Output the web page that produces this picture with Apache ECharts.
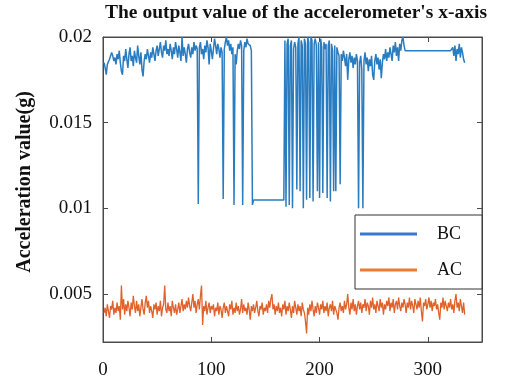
<!DOCTYPE html>
<html>
<head>
<meta charset="utf-8">
<script src="https://cdn.jsdelivr.net/npm/echarts@6/dist/echarts.min.js"></script>
<style>
  html, body { margin: 0; padding: 0; background: #fff; }
  #chart { width: 515px; height: 385px; }
</style>
</head>
<body>
<div id="chart"></div>
<script>
// accelerometer x-axis output, one reading per sample (sample 1..334)
const seriesNames = ["BC", "AC"];

const bcValues = [
  0.0185, 0.0182, 0.0178, 0.0184, 0.0183, 0.0187, 0.0186, 0.0191, 0.0189, 0.0186,
  0.0188, 0.0184, 0.0190, 0.0187, 0.0192, 0.0185, 0.0180, 0.0178, 0.0189, 0.0186,
  0.0193, 0.0187, 0.0182, 0.0190, 0.0194, 0.0186, 0.0189, 0.0183, 0.0192, 0.0188,
  0.0185, 0.0195, 0.0189, 0.0184, 0.0191, 0.0181, 0.0177, 0.0186, 0.0190, 0.0187,
  0.0193, 0.0189, 0.0185, 0.0191, 0.0188, 0.0194, 0.0190, 0.0186, 0.0192, 0.0195,
  0.0189, 0.0193, 0.0197, 0.0191, 0.0188, 0.0195, 0.0192, 0.0198, 0.0190, 0.0193,
  0.0189, 0.0196, 0.0192, 0.0187, 0.0194, 0.0190, 0.0197, 0.0193, 0.0188, 0.0195,
  0.0191, 0.0186, 0.0200, 0.0189, 0.0194, 0.0190, 0.0185, 0.0193, 0.0196, 0.0191,
  0.0188, 0.0194, 0.0190, 0.0197, 0.0192, 0.0195, 0.0193,
  0.01025,
  0.0194, 0.0197, 0.0190, 0.0193, 0.0187, 0.0195, 0.0191, 0.0198, 0.0194, 0.0184,
  0.0196, 0.0192, 0.0187, 0.0193, 0.0199, 0.0195, 0.0190, 0.0196, 0.0193, 0.0188,
  0.0194, 0.0191,
  0.01055,
  0.0193, 0.0197, 0.0200, 0.0195, 0.0198, 0.0192, 0.0196, 0.0190, 0.0194,
  0.0102,
  0.0190, 0.0184, 0.0192, 0.0196, 0.0193, 0.0198, 0.0195,
  0.0102,
  0.0192, 0.0197, 0.0194, 0.0199, 0.0196, 0.0197, 0.0195, 0.0192,
  0.0102,
  0.01048, 0.01048, 0.01048, 0.01048, 0.01048, 0.01048, 0.01048, 0.01048, 0.01048, 0.01048,
  0.01048, 0.01048, 0.01048, 0.01048, 0.01048, 0.01048, 0.01048, 0.01048, 0.01048, 0.01048,
  0.01048, 0.01048, 0.01048, 0.01048, 0.01048, 0.01048, 0.01048, 0.01048, 0.01048,
  0.0198, 0.0101, 0.0196, 0.0199, 0.0102, 0.0195, 0.0198, 0.0100, 0.0193, 0.0197,
  0.0194, 0.0111, 0.0196, 0.0200, 0.0110, 0.0198, 0.0195, 0.0100, 0.0199, 0.0196,
  0.0105, 0.0200, 0.0197, 0.0106, 0.0200, 0.0198, 0.0104, 0.0196, 0.0199, 0.0195,
  0.0110, 0.0197, 0.0106, 0.0199, 0.0194, 0.0109, 0.0197, 0.0193, 0.0196, 0.0106,
  0.0195, 0.0198, 0.0104, 0.0196, 0.0192, 0.0110, 0.0195, 0.0110, 0.0194, 0.0191,
  0.0189, 0.0114, 0.0190, 0.0186, 0.0192, 0.0188, 0.0183, 0.0190, 0.0175, 0.0187,
  0.0191, 0.0185, 0.0189, 0.0182, 0.0188, 0.0184, 0.0190, 0.0186, 0.0100, 0.0185,
  0.0189, 0.0181, 0.0100, 0.0186, 0.0191, 0.0184, 0.0188, 0.0180, 0.0187, 0.0183,
  0.0189, 0.0178, 0.0175, 0.0186, 0.0190, 0.0184, 0.0188, 0.0181, 0.0187, 0.0176,
  0.0185, 0.0190, 0.0187, 0.0193, 0.0186, 0.0191, 0.0188, 0.0194, 0.0190, 0.0186,
  0.0195, 0.0191, 0.0197, 0.0189, 0.0194, 0.0186, 0.0196, 0.0192, 0.0198, 0.0200,
  0.0195, 0.0192,
  0.0192, 0.0192, 0.0192, 0.0192, 0.0192, 0.0192, 0.0192, 0.0192, 0.0192, 0.0192,
  0.0192, 0.0192, 0.0192, 0.0192, 0.0192, 0.0192, 0.0192, 0.0192, 0.0192, 0.0192,
  0.0192, 0.0192, 0.0192, 0.0192, 0.0192, 0.0192, 0.0192, 0.0192, 0.0192, 0.0192,
  0.0192, 0.0192, 0.0192, 0.0192, 0.0192, 0.0192, 0.0192, 0.0192, 0.0192, 0.0192,
  0.0192, 0.0192, 0.0192,
  0.0194, 0.0189, 0.0195, 0.0186, 0.0193, 0.0190, 0.0196, 0.0188, 0.0194, 0.0191,
  0.0187, 0.0185
];

const acValues = [
  0.0039, 0.0042, 0.0037, 0.0044, 0.0040, 0.0036, 0.0043, 0.0041, 0.0046, 0.0038,
  0.0042, 0.0039, 0.0045, 0.0040, 0.0043, 0.0035, 0.0055, 0.0041, 0.0047, 0.0038,
  0.0044, 0.0040, 0.0046, 0.0042, 0.0037, 0.0045, 0.0041, 0.0049, 0.0043, 0.0039,
  0.0046, 0.0040, 0.0044, 0.0037, 0.0042, 0.0047, 0.0041, 0.0038, 0.0045, 0.0049,
  0.0042, 0.0046, 0.0039, 0.0043, 0.0040, 0.0036, 0.0044, 0.0041, 0.0045, 0.0038,
  0.0043, 0.0040, 0.0046, 0.0037, 0.0042, 0.0044, 0.0055, 0.0041, 0.0039, 0.0045,
  0.0040, 0.0043, 0.0037, 0.0046, 0.0042, 0.0039, 0.0044, 0.0038, 0.0041, 0.0045,
  0.0039, 0.0043, 0.0047, 0.0040, 0.0044, 0.0041, 0.0046, 0.0042, 0.0048, 0.0043,
  0.0040, 0.0045, 0.0050, 0.0042, 0.0046, 0.0039, 0.0044, 0.0047, 0.0041, 0.0049,
  0.0055, 0.0032, 0.0043, 0.0040, 0.0046, 0.0038, 0.0042, 0.0045, 0.0039, 0.0043,
  0.0041, 0.0044, 0.0037, 0.0042, 0.0040, 0.0045, 0.0038, 0.0043, 0.0041, 0.0036,
  0.0042, 0.0045, 0.0039, 0.0043, 0.0040, 0.0037, 0.0044, 0.0041, 0.0046, 0.0038,
  0.0042, 0.0039, 0.0045, 0.0040, 0.0043, 0.0038, 0.0041, 0.0047, 0.0039, 0.0044,
  0.0040, 0.0042, 0.0038, 0.0045, 0.0041, 0.0035, 0.0043, 0.0040, 0.0044, 0.0039,
  0.0042, 0.0046, 0.0040, 0.0037, 0.0043, 0.0041, 0.0045, 0.0038, 0.0042, 0.0040,
  0.0044, 0.0039, 0.0046, 0.0042, 0.0047, 0.0050, 0.0041, 0.0044, 0.0038, 0.0043,
  0.0040, 0.0045, 0.0039, 0.0042, 0.0037, 0.0044, 0.0041, 0.0046, 0.0038, 0.0043,
  0.0040, 0.0045, 0.0041, 0.0036, 0.0043, 0.0039, 0.0046, 0.0042, 0.0038, 0.0044,
  0.0040, 0.0043, 0.0037, 0.0045, 0.0041, 0.0039, 0.0034, 0.0027, 0.0042, 0.0038,
  0.0044, 0.0040, 0.0046, 0.0041, 0.0037, 0.0043, 0.0039, 0.0045, 0.0042, 0.0038,
  0.0044, 0.0041, 0.0046, 0.0039, 0.0043, 0.0040, 0.0045, 0.0037, 0.0042, 0.0044,
  0.0040, 0.0046, 0.0038, 0.0043, 0.0041, 0.0039, 0.0035, 0.0042, 0.0045, 0.0040,
  0.0043, 0.0039, 0.0046, 0.0041, 0.0044, 0.0050, 0.0042, 0.0038, 0.0045, 0.0041,
  0.0047, 0.0040, 0.0044, 0.0038, 0.0043, 0.0046, 0.0041, 0.0045, 0.0039, 0.0044,
  0.0042, 0.0047, 0.0040, 0.0045, 0.0043, 0.0038, 0.0046, 0.0042, 0.0048, 0.0041,
  0.0044, 0.0039, 0.0046, 0.0043, 0.0040, 0.0047, 0.0042, 0.0045, 0.0038, 0.0044,
  0.0041, 0.0046, 0.0043, 0.0048, 0.0040, 0.0045, 0.0042, 0.0047, 0.0039, 0.0044,
  0.0046, 0.0041, 0.0048, 0.0043, 0.0040, 0.0045, 0.0042, 0.0047, 0.0044, 0.0039,
  0.0045, 0.0042, 0.0048, 0.0041, 0.0046, 0.0043, 0.0039, 0.0047, 0.0044, 0.0041,
  0.0046, 0.0042, 0.0048, 0.0040, 0.0034, 0.0045, 0.0043, 0.0047, 0.0041, 0.0044,
  0.0048, 0.0042, 0.0046, 0.0040, 0.0045, 0.0043, 0.0047, 0.0041, 0.0044, 0.0039,
  0.0035, 0.0045, 0.0042, 0.0048, 0.0041, 0.0046, 0.0043, 0.0040, 0.0045, 0.0042,
  0.0047, 0.0041, 0.0044, 0.0039, 0.0046, 0.0050, 0.0042, 0.0045, 0.0040, 0.0047,
  0.0043, 0.0039, 0.0045, 0.0038
];

const xTicks = [0, 100, 200, 300];
const yTicks = [0.005, 0.01, 0.015, 0.02];
const yTickLabels = ["0.005", "0.01", "0.015", "0.02"];

const serif = "Liberation Serif, Times New Roman, serif";
const axisColor = "#4a4a4a";

const toPairs = (arr) => arr.map((v, i) => [i + 1, v]);

let chart = echarts.init(document.getElementById("chart"), null, { renderer: "canvas" });

const baseX = {
  type: "value",
  min: 0,
  max: 350,
  axisLine: { show: true, onZero: false, lineStyle: { color: axisColor, width: 1 } },
  axisTick: { show: true, inside: true, length: 5, customValues: xTicks, lineStyle: { color: axisColor } },
  splitLine: { show: false },
};
const baseY = {
  type: "value",
  min: 0.0022,
  max: 0.02,
  axisLine: { show: true, onZero: false, lineStyle: { color: axisColor, width: 1 } },
  axisTick: { show: true, inside: true, length: 5, customValues: yTicks, lineStyle: { color: axisColor } },
  splitLine: { show: false },
};

let option = {
  animation: false,
  backgroundColor: "#fff",
  title: {
    text: "The output value of the accelerometer's x-axis",
    left: 105,
    top: 3,
    padding: 0,
    textStyle: { fontFamily: serif, fontWeight: "bold", fontSize: 19.5, color: "#111" },
  },
  grid: {
    left: 103, right: 33, top: 37, bottom: 43, containLabel: false,
    show: true, borderColor: axisColor, borderWidth: 1, backgroundColor: "transparent",
  },
  legend: {
    data: seriesNames,
    orient: "vertical",
    left: 355,
    top: 215,
    icon: "rect",
    itemWidth: 57,
    itemHeight: 3,
    itemGap: 18,
    padding: [10, 20, 10, 5],
    backgroundColor: "#fff",
    borderColor: "#333",
    borderWidth: 1,
    borderRadius: 0,
    textStyle: { fontFamily: serif, fontSize: 18, color: "#111", padding: [0, 0, 0, 15] },
  },
  xAxis: [
    {
      ...baseX,
      position: "bottom",
      axisLabel: {
        show: true,
        customValues: xTicks,
        margin: 19,
        fontFamily: serif,
        fontSize: 19,
        color: "#111",
      },
    },
    { ...baseX, position: "top", axisLabel: { show: false } },
  ],
  yAxis: [
    {
      ...baseY,
      position: "left",
      name: "Acceleration value(g)",
      nameLocation: "middle",
      nameGap: 68,
      nameTextStyle: {
        fontFamily: serif, fontWeight: "bold", fontSize: 20, color: "#111",
        padding: [0, 0, 0, 15],
      },
      axisLabel: {
        show: true,
        customValues: yTicks,
        margin: 11,
        padding: [8, 0, 0, 0],
        fontFamily: serif,
        fontSize: 19,
        color: "#111",
        formatter: (v) => {
          const k = yTicks.findIndex((t) => Math.abs(t - v) < 1e-9);
          return k >= 0 ? yTickLabels[k] : "";
        },
      },
    },
    { ...baseY, position: "right", axisLabel: { show: false } },
  ],
  series: [
    {
      name: seriesNames[0],
      type: "line",
      data: toPairs(bcValues),
      symbol: "none",
      lineStyle: { color: "#2a7cc0", width: 1.5 },
      itemStyle: { color: "#3a78d0" },
    },
    {
      name: seriesNames[1],
      type: "line",
      data: toPairs(acValues),
      symbol: "none",
      lineStyle: { color: "#e0622a", width: 1.3 },
      itemStyle: { color: "#f07a30" },
    },
  ],
};

option && chart.setOption(option);
</script>
</body>
</html>
